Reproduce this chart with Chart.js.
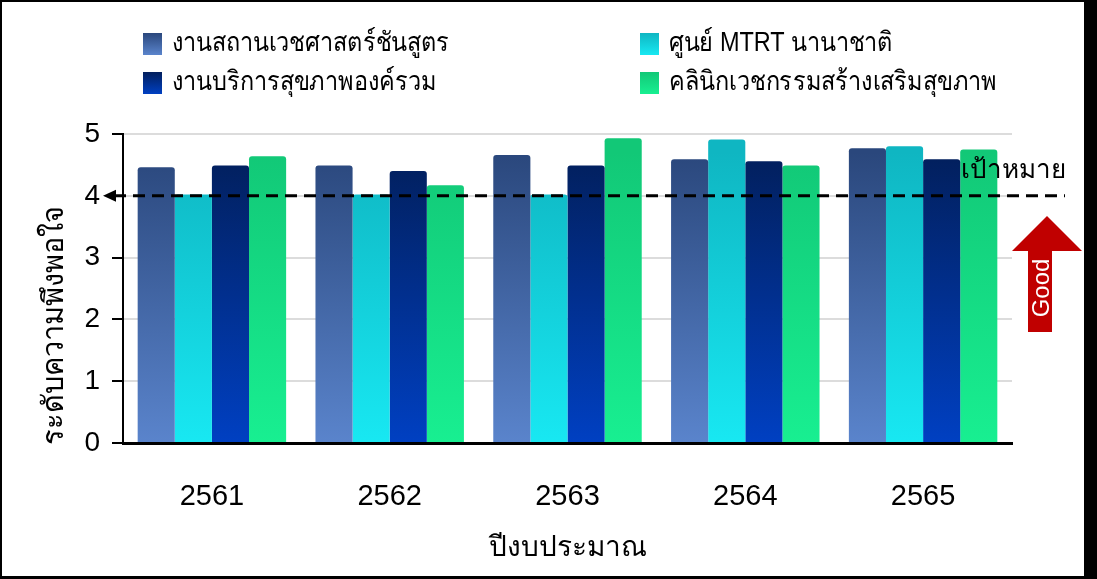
<!DOCTYPE html>
<html>
<head>
<meta charset="utf-8">
<script src="https://cdn.jsdelivr.net/npm/chart.js@4.4.1/dist/chart.umd.min.js"></script>
<style>
    html, body { margin: 0; padding: 0; background: #000; }
    #wrap { position: absolute; left: 2px; top: 2px; width: 1082px; height: 574px; background: #fff; }
</style>
</head>
<body>
<div id="wrap"><canvas id="chart" width="1082" height="574"></canvas></div>
<script>
// data
const years = ['2561', '2562', '2563', '2564', '2565'];
const seriesNames = ['งานสถานเวชศาสตร์ชันสูตร', 'ศูนย์ MTRT นานาชาติ', 'งานบริการสุขภาพองค์รวม', 'คลินิกเวชกรรมสร้างเสริมสุขภาพ'];
const forensic = [4.46, 4.49, 4.66, 4.59, 4.77];
const mtrt = [4.02, 4.02, 4.02, 4.91, 4.80];
const holistic = [4.49, 4.40, 4.49, 4.56, 4.59];
const clinic = [4.64, 4.17, 4.93, 4.49, 4.75];
const targetValue = 4;
const targetLabel = 'เป้าหมาย';
const yTitle = 'ระดับความพึงพอใจ';
const xTitle = 'ปีงบประมาณ';

// top / bottom colours of each bar gradient
const gradColors = [
    ['#2a477c', '#5a84cc'],
    ['#0fb6c2', '#18e8f2'],
    ['#021f5c', '#0040c2'],
    ['#12c877', '#18ef91']
];

const sansFont = '"Liberation Sans", "Noto Sans", sans-serif';

function barGradient(ctx, idx, top, bottom) {
    const g = ctx.createLinearGradient(0, top, 0, bottom);
    g.addColorStop(0, gradColors[idx][0]);
    g.addColorStop(1, gradColors[idx][1]);
    return g;
}

function fillFor(idx) {
    return function (context) {
        const chart = context.chart;
        const area = chart.chartArea;
        if (!area) return gradColors[idx][1];
        const top = chart.scales.y.getPixelForValue(4.7);
        return barGradient(chart.ctx, idx, top, area.bottom);
    };
}

const extras = {
    id: 'extras',
    afterDraw(chart) {
        const ctx = chart.ctx;
        const y = chart.scales.y;

        // legend, two columns, narrow text
        const spots = [[141, 42], [638, 42], [141, 81], [638, 81]];
        chart.data.datasets.forEach((ds, i) => {
            const [sx, sy] = spots[i];
            ctx.fillStyle = barGradient(ctx, i, sy - 11, sy + 11);
            ctx.fillRect(sx, sy - 11, 19, 22);
            ctx.save();
            ctx.translate(sx + 29, sy);
            ctx.scale(0.87, 1);
            ctx.fillStyle = '#000';
            ctx.font = '27px ' + sansFont;
            ctx.textAlign = 'left';
            ctx.textBaseline = 'middle';
            ctx.fillText(ds.label, 0, 0);
            ctx.restore();
        });

        // y axis title
        ctx.save();
        ctx.translate(53, 323);
        ctx.rotate(-Math.PI / 2);
        ctx.font = '29px ' + sansFont;
        ctx.textAlign = 'center';
        ctx.textBaseline = 'middle';
        ctx.fillStyle = '#000';
        ctx.fillText(yTitle, 0, 0);
        ctx.restore();

        // target line
        const ty = y.getPixelForValue(targetValue);
        ctx.save();
        ctx.strokeStyle = '#000';
        ctx.lineWidth = 3;
        ctx.setLineDash([12, 7]);
        ctx.beginPath();
        ctx.moveTo(112, ty);
        ctx.lineTo(1063, ty);
        ctx.stroke();
        ctx.setLineDash([]);
        ctx.fillStyle = '#000';
        ctx.beginPath();
        ctx.moveTo(101, ty);
        ctx.lineTo(114, ty - 6);
        ctx.lineTo(114, ty + 6);
        ctx.closePath();
        ctx.fill();

        ctx.font = '26px ' + sansFont;
        ctx.textAlign = 'center';
        ctx.textBaseline = 'middle';
        ctx.fillText(targetLabel, 1011, 169);

        // "Good" arrow
        ctx.fillStyle = '#c00000';
        ctx.beginPath();
        ctx.moveTo(1045, 214);
        ctx.lineTo(1080, 249);
        ctx.lineTo(1050, 249);
        ctx.lineTo(1050, 330);
        ctx.lineTo(1026, 330);
        ctx.lineTo(1026, 249);
        ctx.lineTo(1010, 249);
        ctx.closePath();
        ctx.fill();
        ctx.translate(1039, 286);
        ctx.rotate(-Math.PI / 2);
        ctx.fillStyle = '#fff';
        ctx.font = '24px ' + sansFont;
        ctx.fillText('Good', 0, 1);
        ctx.restore();
    }
};

const seriesData = [forensic, mtrt, holistic, clinic];

new Chart(document.getElementById('chart'), {
    type: 'bar',
    data: {
        labels: years,
        datasets: seriesData.map((vals, i) => ({
            label: seriesNames[i],
            data: vals,
            backgroundColor: fillFor(i),
            borderWidth: 0,
            borderRadius: { topLeft: 3, topRight: 3 },
            borderSkipped: 'start',
            categoryPercentage: 0.835,
            barPercentage: 1.0
        }))
    },
    options: {
        responsive: false,
        animation: false,
        layout: { padding: { top: 132, right: 72, left: 0, bottom: 0 } },
        plugins: {
            legend: { display: false },
            tooltip: { enabled: false }
        },
        scales: {
            x: {
                grid: { display: false, drawTicks: false },
                border: { color: '#000', width: 3 },
                ticks: {
                    color: '#000',
                    padding: 37,
                    font: { family: sansFont, size: 29 }
                },
                title: {
                    display: true,
                    text: xTitle,
                    color: '#000',
                    padding: { top: 0, bottom: 11 },
                    font: { family: sansFont, size: 28 }
                },
                afterFit(scale) { scale.height = 133; }
            },
            y: {
                min: 0,
                max: 5,
                ticks: {
                    stepSize: 1,
                    color: '#000',
                    padding: 12,
                    font: { family: sansFont, size: 28 }
                },
                grid: {
                    color: '#dcdcdc',
                    lineWidth: 2,
                    tickColor: '#000',
                    tickLength: 11,
                    tickWidth: 2
                },
                border: { color: '#000', width: 2 },
                afterFit(scale) { scale.width = 121; }
            }
        }
    },
    plugins: [extras]
});
</script>
</body>
</html>
